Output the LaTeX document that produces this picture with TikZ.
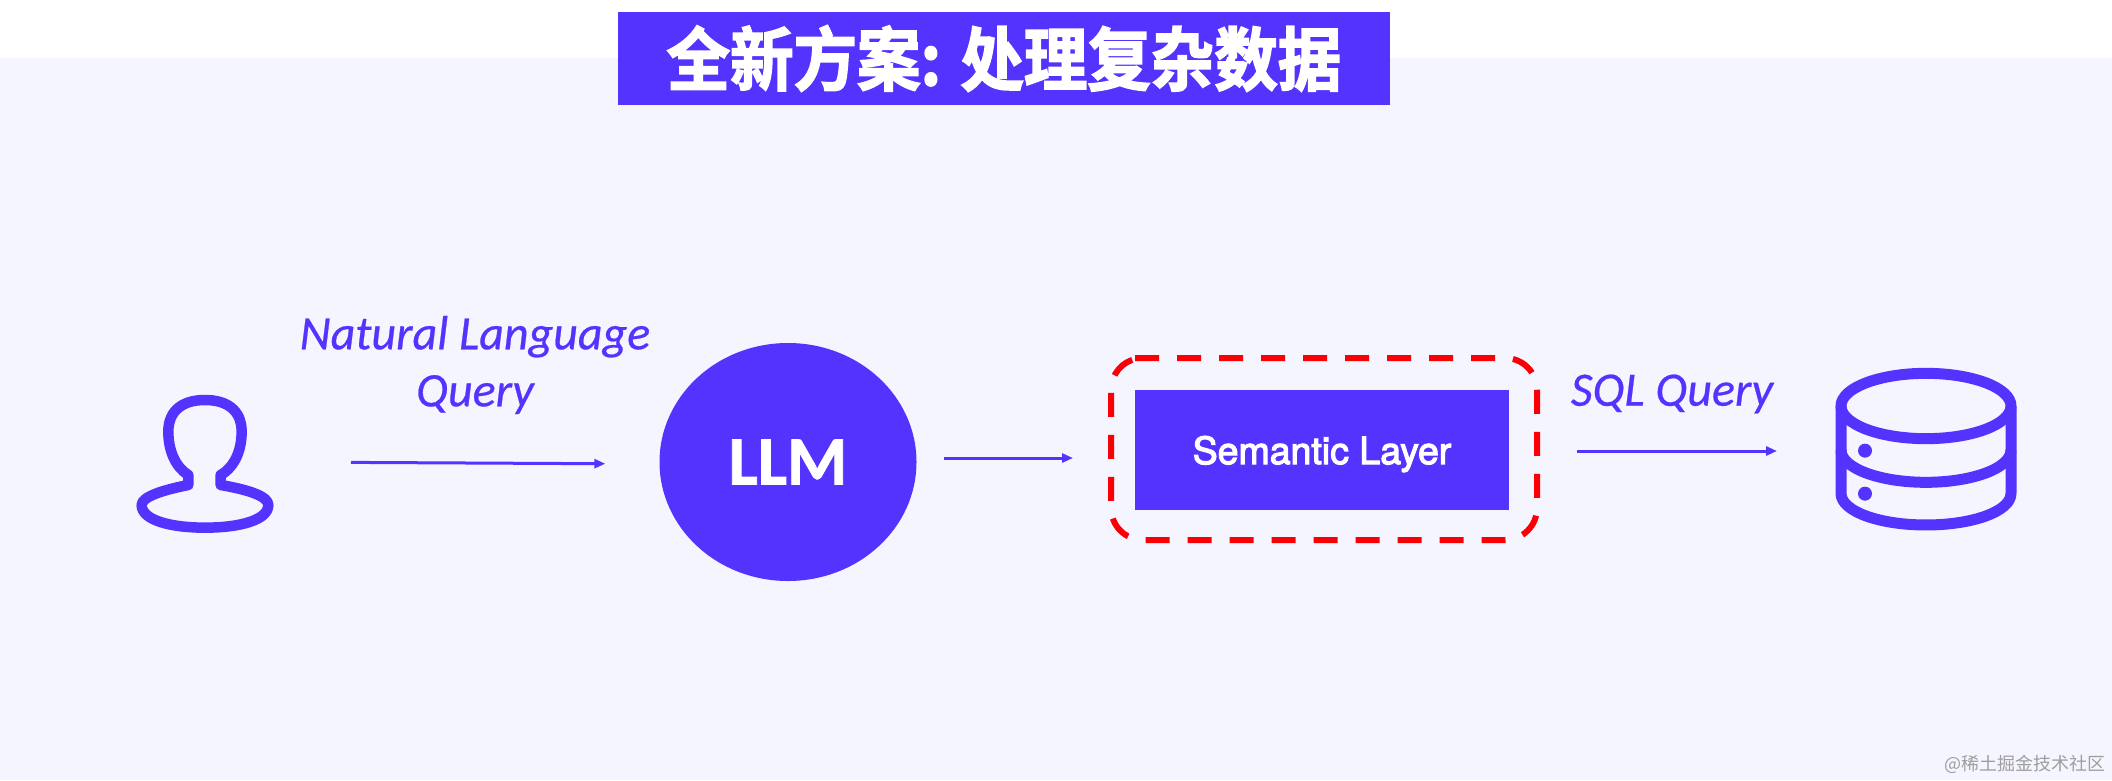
\documentclass[tikz,border=0pt]{standalone}
\usepackage{fontspec}
\usepackage{graphicx}
\setmainfont{Carlito}
\newfontfamily\cjkbold[FakeBold=2.4]{Noto Sans CJK SC Bold}
\newfontfamily\cjkplain{Noto Sans CJK SC}
\newfontfamily\helv[FakeBold=3]{TeX Gyre Heros}
\usetikzlibrary{arrows.meta,shapes.geometric}
\definecolor{brandblue}{HTML}{5533FF}
\definecolor{pagebg}{HTML}{F5F5FF}
\definecolor{dashred}{HTML}{FA0006}
\tikzset{
  flow/.style={draw=brandblue, line width=3pt, -{Triangle[length=11pt,width=9pt]}},
  ghost/.style={inner sep=0pt, outer sep=0pt, minimum width=#1, minimum height=10pt},
  iconline/.style={draw=brandblue, line width=#1, line join=round},
  label/.style={text=brandblue, font=\itshape\addfontfeature{FakeBold=0.5}\fontsize{48}{57}\selectfont, align=center, inner sep=0pt},
}
\begin{document}
\begin{tikzpicture}[x=1pt,y=-1pt]
\useasboundingbox (0,0) rectangle (2112,780);
\fill[white] (0,0) rectangle (2112,780);
\fill[pagebg] (0,58) rectangle (2112,780);
\node[fill=brandblue, minimum width=772pt, minimum height=93pt, inner sep=0pt, text=white, font=\cjkbold\fontsize{63.5}{70}\selectfont] (title) at (1004,58.5) {\scalebox{1}[1.09]{全新方案: 处理复杂数据}};
% user icon
\begin{scope}[shift={(100,360)}, x=0.3333pt, y=-0.3333pt]
\draw[iconline=10.5pt] (265,375) -- (265,345) .. controls (225,320) and (205,270) .. (205,215)
  .. controls (205,150) and (250,120) .. (315,120)
  .. controls (380,120) and (425,150) .. (425,215)
  .. controls (425,270) and (405,320) .. (362,345) -- (362,375)
  .. controls (450,390) and (505,410) .. (505,435)
  .. controls (505,480) and (420,503) .. (315,503)
  .. controls (210,503) and (125,480) .. (125,435)
  .. controls (125,410) and (190,390) .. (265,375) -- cycle;
\end{scope}
\node[ghost=138pt] (user) at (206,462) {};
% database icon
\begin{scope}[shift={(1810,350)}, x=0.3333pt, y=-0.3333pt]
\draw[iconline=11pt] (348,168) ellipse [x radius=255, y radius=98];
\draw[iconline=11pt] (93,168) -- (93,430) .. controls (93,485) and (210,525) .. (348,525) .. controls (486,525) and (603,485) .. (603,430) -- (603,168);
\draw[iconline=11pt] (93,300) .. controls (93,355) and (210,397) .. (348,397) .. controls (486,397) and (603,355) .. (603,300);
\fill[brandblue] (165,302) circle [radius=21];
\fill[brandblue] (165,431) circle [radius=21];
\end{scope}
\node[ghost=180pt] (db) at (1926,449) {};
% main nodes
\node[ellipse, fill=brandblue, minimum width=257pt, minimum height=238pt, inner sep=0pt, text=white, font=\bfseries\addfontfeature{FakeBold=1.2}\fontsize{69}{70}\selectfont] (llm) at (788,462) {LLM};
\node[fill=brandblue, minimum width=374pt, minimum height=120pt, inner sep=0pt, text=white, font=\helv\fontsize{37.5}{40}\selectfont] (semantic) at (1322,450) {\raisebox{-14pt}[0pt][0pt]{Semantic Layer}};
\node[outer sep=0pt, minimum width=426pt, minimum height=182pt, inner sep=0pt] (focus) at (1324,449) {};
\draw[dashred, line width=6pt, dash pattern=on 24pt off 18pt, rounded corners=32pt]
  ([xshift=24pt]focus.north west) -- (focus.north east) -- (focus.south east) -- (focus.south west) -- (focus.north west) -- ([xshift=32pt]focus.north west);
% labels
\node[label] (nlq) at (475,365) {Natural Language\\Query};
\node[label] (sql) at (1672,394) {SQL Query};
% connectors
\draw[flow, shorten <=76pt, shorten >=54pt] (user.east) -- ([yshift=-2pt]llm.west);
\draw[flow, shorten <=27pt, shorten >=38pt] ([yshift=4pt]llm.east) -- ([yshift=-9pt]focus.west);
\draw[flow, shorten <=40pt, shorten >=59pt] ([yshift=-2pt]focus.east) -- ([yshift=-2pt]db.west);
% watermark
\node[text=black!38, font=\cjkplain\fontsize{18}{20}\selectfont, anchor=east, inner sep=0pt] (mark) at (2106,764) {@稀土掘金技术社区};
\end{tikzpicture}
\end{document}
